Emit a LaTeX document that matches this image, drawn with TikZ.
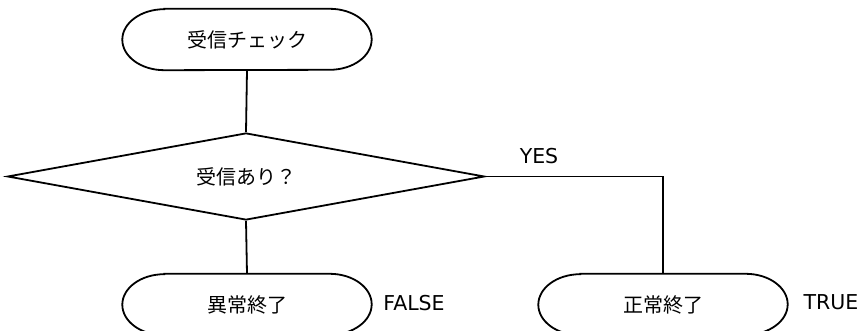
\documentclass[tikz,border=0pt]{standalone}
\usepackage{fontspec}
\setmainfont{DejaVu Sans}
\newfontfamily\jp{Noto Sans CJK JP}
\usetikzlibrary{shapes.geometric}
\tikzset{
  line/.style={line width=1.8pt},
  termbox/.style={draw=none, minimum width=249pt, minimum height=61pt, inner sep=0pt, font=\jp\fontsize{20}{23}\selectfont},
  decbox/.style={diamond, draw, line width=1.8pt, minimum width=477pt, minimum height=87pt, aspect=5.48, inner sep=0pt, font=\jp\fontsize{20}{23}\selectfont},
  lbl/.style={font=\fontsize{20.5}{23}\selectfont, inner sep=0pt},
}
\newcommand{\termshape}[1]{%
  \draw[line] ([xshift=42pt]#1.north west) -- ([xshift=-42pt]#1.north east)
    arc[start angle=90, end angle=-90, x radius=42pt, y radius=30.5pt]
    -- ([xshift=42pt]#1.south west)
    arc[start angle=270, end angle=90, x radius=42pt, y radius=30.5pt] -- cycle;}
\begin{document}
\begin{tikzpicture}[x=1pt,y=-1pt]
\useasboundingbox[fill=white] (0,0) rectangle (860,331);
\node[termbox] (start) at (247,39.5) {受信チェック};
\termshape{start}
\node[decbox] (dec) at (246,176.5) {受信あり？};
\node[termbox] (ng) at (247,304.5) {異常終了};
\termshape{ng}
\node[termbox] (ok) at (663,304.5) {正常終了};
\termshape{ok}
\draw[line] (start.south) -- (dec.north);
\draw[line] (dec.south) -- (ng.north);
\draw[line] (dec.east) -| (ok.north);
\node[lbl] (yes) at (539,156) {YES};
\node[lbl] (false) at (414,303) {FALSE};
\node[lbl] (true) at (831,302) {TRUE};
\end{tikzpicture}
\end{document}
